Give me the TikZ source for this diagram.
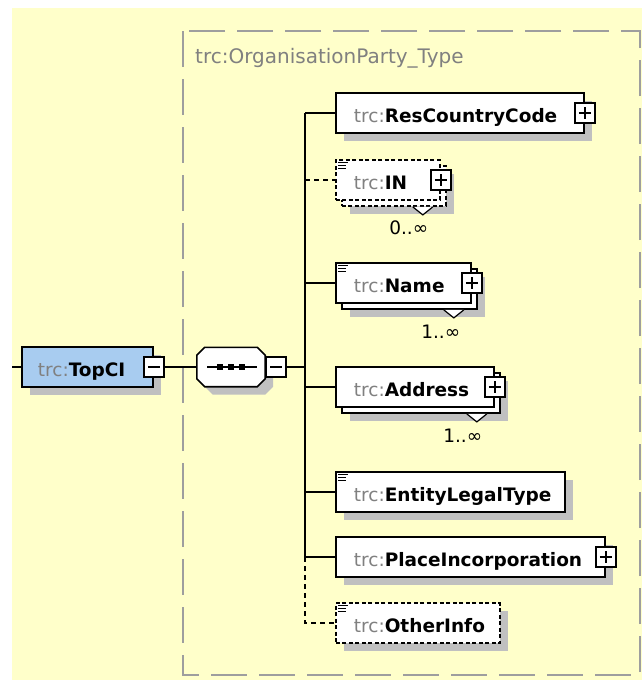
\documentclass[tikz,border=0pt]{standalone}
\usepackage{fontspec}
\setmainfont{DejaVu Sans}
\usetikzlibrary{shadows}
\definecolor{bgyellow}{RGB}{255,255,202}
\definecolor{typegrey}{RGB}{158,158,158}
\definecolor{prefixgrey}{RGB}{128,128,128}
\definecolor{shadowgrey}{RGB}{192,192,192}
\definecolor{topblue}{RGB}{168,204,240}
\newcommand\trcprefix{\textcolor{prefixgrey}{trc:}}
\newcommand\elemname[1]{\mbox{\trcprefix\textbf{#1}}}
\newcommand\namefont{\fontsize{18.5}{22}\selectfont}
\begin{document}
\begin{tikzpicture}
  [x=1pt,y=-1pt,
   elembox/.style={draw,fill=white,line width=1.8pt,anchor=west,inner xsep=18pt,inner ysep=0pt,
     minimum height=40pt,text height=20pt,text depth=2pt,align=left,font=\namefont},
   boxshadow/.style={general shadow={fill=shadowgrey,shadow xshift=8pt,shadow yshift=-8pt}},
   optional/.style={dash pattern=on 4pt off 2.5pt},
   plusbox/.style={draw,fill=white,line width=1.6pt,minimum size=20pt,inner sep=0pt,
     path picture={\draw[line width=1.6pt]
       ([xshift=4pt]path picture bounding box.west) -- ([xshift=-4pt]path picture bounding box.east)
       ([yshift=-4pt]path picture bounding box.north) -- ([yshift=4pt]path picture bounding box.south);}},
   minusbox/.style={draw,fill=white,line width=1.6pt,minimum size=20pt,inner sep=0pt,
     path picture={\draw[line width=1.6pt]
       ([xshift=4pt]path picture bounding box.west) -- ([xshift=-4pt]path picture bounding box.east);}},
   mult/.style={inner sep=0pt,font=\namefont},
   conn/.style={draw,line width=1.8pt},
   optline/.style={dash pattern=on 5pt off 4pt},
   typename/.style={anchor=base west,inner sep=0pt,text=prefixgrey,font=\fontsize{20}{24}\selectfont}]
  \useasboundingbox (0,0) rectangle (642,680);
  \fill[bgyellow] (12,8) rectangle (642,680);

  % complex type frame
  \draw[typegrey,line width=2pt,dash pattern=on 36pt off 12pt] (183,31) rectangle (640,675);
  \node[typename] (typename) at (195,63) {trc:OrganisationParty\_Type};

  % root element and sequence
  \node[elembox,boxshadow,fill=topblue,inner xsep=16pt,text width=99pt] (topci) at (21,367) {\elemname{TopCI}};
  \node[minusbox] (topciminus) at (topci.east) {};
  \node[minimum width=68pt,minimum height=39pt,inner sep=0pt] (seq) at (231,367) {};
  \draw[line width=1.6pt,fill=white,boxshadow]
    ([xshift=8pt]seq.north west) -- ([xshift=-8pt]seq.north east) -- ([yshift=-8pt]seq.north east)
    -- ([yshift=8pt]seq.south east) -- ([xshift=-8pt]seq.south east) -- ([xshift=8pt]seq.south west)
    -- ([yshift=8pt]seq.south west) -- ([yshift=-8pt]seq.north west) -- cycle;
  \draw[line width=1.6pt] (207,367) -- (257,367);
  \foreach \x in {220,231,242}
    \fill (\x-3,364) rectangle ++(6,6);
  \node[minusbox] (seqminus) at (276,367) {};

  % child elements
  \node[elembox,boxshadow,text width=212pt] (rescountry) at (335,113) {\elemname{ResCountryCode}};
  \node[plusbox] (rescountryplus) at (rescountry.east) {};

  \node[elembox,optional,boxshadow,minimum width=104pt] (inidback) at (341,186) {};
  \node[elembox,optional,text width=68pt] (inid) at (335,180) {\elemname{IN}};
  \node[plusbox] (inidplus) at (inid.east) {};
  \node[mult] (inidmult) at ([xshift=-38pt,yshift=-21pt]inidback.south east) {0..∞};

  \node[elembox,boxshadow,minimum width=135pt] (partynameback) at (341,289) {};
  \node[elembox,text width=99pt] (partyname) at (335,283) {\elemname{Name}};
  \node[plusbox] (partynameplus) at (partyname.east) {};
  \node[mult] (partynamemult) at ([xshift=-37pt,yshift=-22pt]partynameback.south east) {1..∞};

  \node[elembox,boxshadow,minimum width=158pt] (addressback) at (341,393) {};
  \node[elembox,text width=122pt] (address) at (335,387) {\elemname{Address}};
  \node[plusbox] (addressplus) at (address.east) {};
  \node[mult] (addressmult) at ([xshift=-38pt,yshift=-22pt]addressback.south east) {1..∞};

  \node[elembox,boxshadow,text width=193pt] (legaltype) at (335,492) {\elemname{EntityLegalType}};

  \node[elembox,boxshadow,text width=233pt] (placeinc) at (335,557) {\elemname{PlaceIncorporation}};
  \node[plusbox] (placeincplus) at (placeinc.east) {};

  \node[elembox,optional,boxshadow,text width=128pt] (otherinfo) at (335,623) {\elemname{OtherInfo}};

  % repeat markers
  \foreach \n in {inidback,partynameback,addressback}
    \filldraw[fill=white,line width=1.2pt] ([xshift=-34pt]\n.south east) -- ([xshift=-24pt,yshift=-8pt]\n.south east)
      -- ([xshift=-14pt]\n.south east);

  % documentation marks
  \foreach \n in {inid,partyname,legaltype,otherinfo}
    \draw[line width=1.2pt] ([shift={(3pt,-3.5pt)}]\n.north west) -- ++(10,0)
      ([shift={(3pt,-6.5pt)}]\n.north west) -- ++(8,0)
      ([shift={(3pt,-9.5pt)}]\n.north west) -- ++(8,0);

  % connectors
  \coordinate (entry) at (12,367);
  \coordinate (bj) at (305,367);
  \coordinate (b1) at (305,113);
  \coordinate (b2) at (305,180);
  \coordinate (b3) at (305,283);
  \coordinate (b4) at (305,387);
  \coordinate (b5) at (305,492);
  \coordinate (b6) at (305,557);
  \coordinate (b7) at (305,623);
  \path[conn]
    (entry) edge (topci.west)
    (topciminus) edge (seq)
    (seqminus) edge (bj)
    (b1) edge (b6)
    (b1) edge (rescountry.west)
    (b2) edge[optline] (inid.west)
    (b3) edge (partyname.west)
    (b4) edge (address.west)
    (b5) edge (legaltype.west)
    (b6) edge (placeinc.west);
  \draw[conn,optline] (b6) -- (b7) -- (otherinfo.west);

\end{tikzpicture}
\end{document}
